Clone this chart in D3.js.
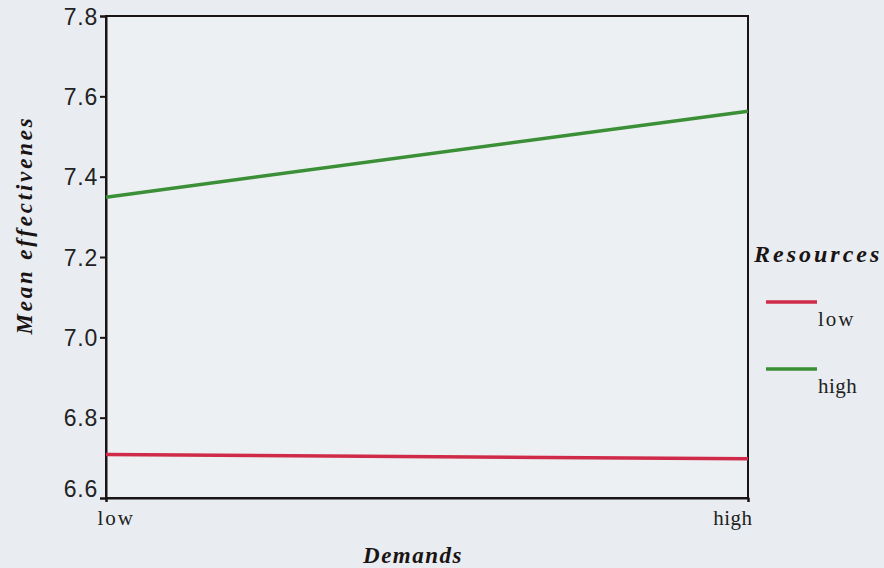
<!DOCTYPE html>
<html>
<head>
<meta charset="utf-8">
<script src="https://cdn.jsdelivr.net/npm/d3@7"></script>
<style>
  html, body { margin: 0; padding: 0; background: #e9edf1; }
  svg { display: block; }
</style>
</head>
<body>
<svg id="chart" width="884" height="568"></svg>
<script>
// Estimated marginal means: effectiveness by demands, per resources level
const demands = ["low", "high"];
const resourceLevels = ["low", "high"];
const lowResources = [6.708, 6.698];
const highResources = [7.349, 7.563];
const yTicks = [6.6, 6.8, 7.0, 7.2, 7.4, 7.6, 7.8];
const seriesColors = ["#cf2b48", "#3b8f37"];

const series = [lowResources, highResources];

const svg = d3.select("#chart");
const margin = { left: 106, right: 748, top: 16, bottom: 498 };
const serif = "Liberation Serif, Times New Roman, serif";
const sans = "Liberation Sans, Arial, sans-serif";

const x = d3.scalePoint().domain(demands).range([margin.left, margin.right]);
const y = d3.scaleLinear().domain([6.6, 7.8]).range([margin.bottom, margin.top]);

// plot frame
svg.append("rect")
  .attr("x", margin.left).attr("y", margin.top)
  .attr("width", margin.right - margin.left)
  .attr("height", margin.bottom - margin.top)
  .attr("fill", "#edf0f3")
  .attr("stroke", "#1a1414").attr("stroke-width", 2);

// y axis
const yAxis = svg.append("g")
  .attr("transform", `translate(${margin.left},0)`)
  .call(d3.axisLeft(y).tickValues(yTicks).tickFormat(d3.format(".1f")).tickSize(6).tickPadding(2));
yAxis.select(".domain").attr("stroke", "#1a1414").attr("stroke-width", 2);
yAxis.selectAll(".tick line").attr("stroke", "#1a1414").attr("stroke-width", 2);
yAxis.selectAll(".tick text")
  .attr("font-family", sans)
  .attr("font-size", 23)
  .attr("letter-spacing", 0.8)
  .attr("fill", "#222")
  .attr("dy", d => d === 6.6 ? "-0.05em" : "0.36em");

// x axis
const xAxis = svg.append("g")
  .attr("transform", `translate(0,${margin.bottom})`)
  .call(d3.axisBottom(x).tickSize(4).tickPadding(6));
xAxis.select(".domain").attr("stroke", "#1a1414").attr("stroke-width", 2);
xAxis.selectAll(".tick line").attr("stroke", "#1a1414").attr("stroke-width", 2);
xAxis.selectAll(".tick text")
  .attr("font-family", serif)
  .attr("font-size", 21)
  .attr("letter-spacing", (d, i) => i === 0 ? 2 : 0.5)
  .attr("fill", "#222")
  .attr("text-anchor", (d, i) => i === 0 ? "start" : "end")
  .attr("dx", (d, i) => i === 0 ? -9 : 4)
  .attr("dy", "0.8em");

// series lines
const line = d3.line().x((d, i) => x(demands[i])).y(d => y(d));
svg.append("g").selectAll("path")
  .data(series)
  .join("path")
  .attr("d", line)
  .attr("fill", "none")
  .attr("stroke", (d, i) => seriesColors[i])
  .attr("stroke-width", 3.5);

// axis titles
svg.append("text")
  .attr("x", 413).attr("y", 563)
  .attr("text-anchor", "middle")
  .attr("font-family", serif)
  .attr("font-weight", "bold").attr("font-style", "italic")
  .attr("font-size", 23).attr("letter-spacing", 1.5)
  .attr("fill", "#1a1414")
  .text("Demands");

svg.append("text")
  .attr("transform", "translate(32,225) rotate(-90)")
  .attr("text-anchor", "middle")
  .attr("font-family", serif)
  .attr("font-weight", "bold").attr("font-style", "italic")
  .attr("font-size", 23).attr("letter-spacing", 2.8)
  .attr("fill", "#1a1414")
  .text("Mean effectivenes");

// legend
const legend = svg.append("g");
legend.append("text")
  .attr("x", 754).attr("y", 262)
  .attr("font-family", serif)
  .attr("font-weight", "bold").attr("font-style", "italic")
  .attr("font-size", 24).attr("letter-spacing", 3)
  .attr("fill", "#1a1414")
  .text("Resources");

const legendRows = [302, 369];
resourceLevels.forEach((lvl, i) => {
  legend.append("line")
    .attr("x1", 766).attr("x2", 817)
    .attr("y1", legendRows[i]).attr("y2", legendRows[i])
    .attr("stroke", seriesColors[i]).attr("stroke-width", 3.5);
  legend.append("text")
    .attr("x", 818).attr("y", legendRows[i] + 24)
    .attr("font-family", serif)
    .attr("font-size", 21)
    .attr("letter-spacing", i === 0 ? 2 : 0.5)
    .attr("fill", "#222")
    .text(lvl);
});
</script>
</body>
</html>
